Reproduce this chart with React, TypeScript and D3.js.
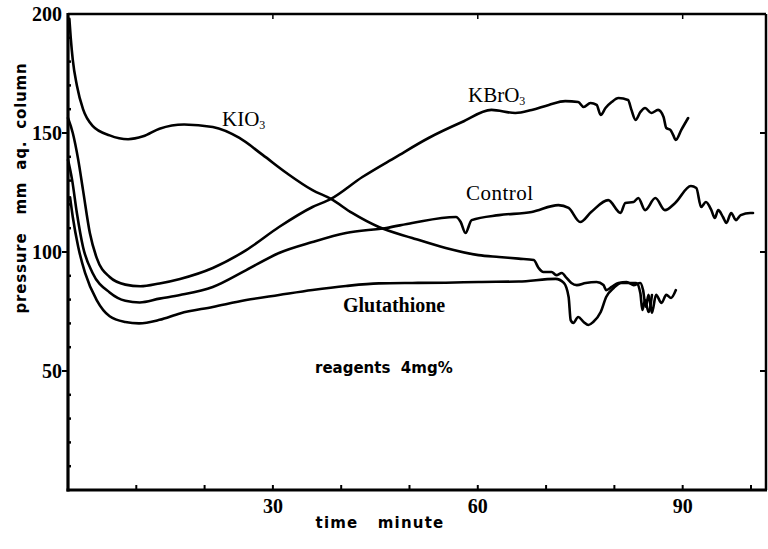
import React from "react";
import * as d3 from "d3";

const W = 768;
const H = 549;

const yTickValues = [50, 100, 150, 200];
const yMinorValues = [10, 20, 30, 40, 60, 70, 80, 90, 110, 120, 130, 140, 160, 170, 180, 190];
const xTickValues = [30, 60, 90];
const xMinorValues = [10, 20, 30, 40, 50, 60, 70, 80, 90, 100];

const kio3: [number, number][] = [
  [0.2, 198], [0.4, 190], [0.7, 180.7], [1.3, 170], [2.2, 160], [3.6, 153], [6.1, 149], [8.8, 147.4],
  [11, 148.6], [13.4, 151.8], [17, 153.6], [21.2, 152.5], [25.1, 147.9], [28.5, 140.8], [32, 133.2],
  [35.8, 126], [38.5, 122.3], [41.6, 116.4], [45.5, 110.5], [50.4, 105.9], [55.3, 101.7], [60.1, 98.7],
  [63.1, 97.9], [66, 97.2], [68.2, 96.6], [68.9, 93.3], [69.6, 91.6], [70.8, 91.6], [71.5, 90.3],
  [72.3, 91.2], [73, 89.1], [73.7, 87], [74.5, 86.1], [75.8, 87], [77.4, 87.4], [78.4, 86.1], [78.8, 84],
  [79.6, 85.3], [80.6, 87], [81.8, 87.4], [82.8, 86.1], [83.8, 87], [84.2, 84], [84.6, 77], [85, 82],
  [85.5, 74.5], [86.1, 82], [86.9, 78.6], [87.6, 82], [88.3, 80.7], [89, 84],
];

const kbro3: [number, number][] = [
  [0, 156.3], [0.7, 150], [1.5, 138.7], [2.2, 126], [3.2, 108], [4.2, 97.5], [6.1, 89.5], [8.4, 86.3],
  [10.6, 85.6], [13.4, 86.8], [16.4, 88.7], [21.2, 93.3], [26.1, 100.8], [30.9, 110.5], [35.8, 118.9],
  [38.5, 122.3], [43.1, 131.5], [48, 139.9], [52.8, 147.9], [57.7, 154.6], [62, 159.7], [65.5, 158.4],
  [67.9, 159.7], [70.4, 161.8], [72.8, 163.4], [74.7, 163], [75.5, 160.9], [76.5, 162.6], [77.4, 161.8],
  [78, 157.6], [78.7, 160.5], [79.6, 163], [80.6, 164.7], [82, 163.9], [82.5, 159.7], [83.1, 155.5],
  [83.8, 158.8], [84.5, 160.5], [85.4, 158.4], [86.4, 159.7], [87.2, 156.7], [87.6, 152.1], [88.2, 151.3],
  [88.6, 149.2], [89, 147.1], [89.8, 151.3], [90.8, 156.3],
];

const control: [number, number][] = [
  [0, 138.7], [0.6, 130.3], [1.3, 116.4], [2.2, 102.1], [3.6, 91.2], [6.1, 83], [8.4, 79.5], [10.5, 78.8],
  [13.4, 80.4], [16.4, 81.9], [21.2, 85.3], [26.1, 92.4], [30.9, 99.6], [35.8, 104.2], [40.7, 108],
  [46.6, 110.1], [50.4, 112.2], [56.8, 114.7], [57.5, 112.6], [58.2, 108], [59.1, 113.4], [63.1, 115.5],
  [67.9, 116.8], [71.8, 119.7], [73.3, 118.5], [75, 112.6], [76.6, 116.8], [79.1, 121.8], [80.9, 116.4],
  [81.6, 120.6], [82.8, 121], [83.5, 122.7], [84.5, 117.6], [86, 122.7], [87.4, 117.6], [88.9, 120.6],
  [91.2, 127.7], [92, 126.9], [92.7, 118.9], [93.4, 121], [94.2, 117.6], [94.7, 114.3], [95.2, 117.6],
  [95.9, 114.7], [96.4, 112.2], [97.1, 116.4], [97.8, 113.4], [98.5, 115.5], [99.9, 116.4], [100.3, 116.4],
];

const glutathione: [number, number][] = [
  [0.3, 123], [0.7, 114.7], [1.5, 102.1], [2.5, 91.2], [4.2, 79.8], [6.1, 73], [8.4, 70.6], [10.4, 70],
  [13.4, 71.5], [16.4, 74.2], [21.2, 76.9], [26.1, 79.8], [30.9, 81.9], [35.8, 84], [40.7, 85.7],
  [45.5, 86.8], [50.4, 87], [55.3, 87.1], [60.1, 87.4], [66, 87.6], [71.4, 88.7], [72.6, 87], [73.3, 81.1],
  [73.6, 71.4], [74, 70.2], [74.7, 72.7], [75.5, 70.6], [76.2, 69.3], [76.9, 70.6], [78, 74.8],
  [78.8, 81.1], [79.9, 84.9], [81, 87], [82, 87], [83.2, 87], [83.8, 82.8], [84.1, 75.6], [84.5, 79.8],
  [85, 74.8], [85.5, 81.9],
];

const seriesList = [kio3, kbro3, control, glutathione];

export default function App() {
  const x = d3.scaleLinear().domain([0, 102.2]).range([68, 766]);
  const y = d3.scaleLinear().domain([0, 200]).range([490, 14]);
  const line = d3
    .line<[number, number]>()
    .x((d) => x(d[0]))
    .y((d) => y(d[1]))
    .curve(d3.curveMonotoneX);

  const serif = "'Liberation Serif', 'DejaVu Serif', serif";
  const sans = "'DejaVu Sans', 'Liberation Sans', sans-serif";

  return (
    <svg width={W} height={H} style={{ position: "absolute", left: 0, top: 0, background: "#fff" }}>
      <rect x={0} y={0} width={W} height={H} fill="#fff" />
      {/* frame */}
      <line x1={x(0)} y1={y(200)} x2={x(102.2)} y2={y(200)} stroke="#000" strokeWidth={2.5} />
      <line x1={x(102.2)} y1={y(200)} x2={x(102.2)} y2={y(0)} stroke="#000" strokeWidth={2.5} />
      <line x1={x(0)} y1={y(200) - 1} x2={x(0)} y2={y(0) + 1.5} stroke="#000" strokeWidth={3.2} />
      <line x1={x(0) - 1.5} y1={y(0)} x2={x(102.2) + 1} y2={y(0)} stroke="#000" strokeWidth={3} />

      {/* y ticks */}
      {yTickValues.map((v) => (
        <g key={"yt" + v}>
          {v < 200 && <line x1={x(0) - 6} x2={x(0)} y1={y(v)} y2={y(v)} stroke="#000" strokeWidth={2} />}
          {v < 200 && <line x1={x(102.2) - 6} x2={x(102.2)} y1={y(v)} y2={y(v)} stroke="#000" strokeWidth={2} />}
          <text
            x={x(0) - 6}
            y={y(v)}
            textAnchor="end"
            dominantBaseline="central"
            fontFamily={serif}
            fontWeight="bold"
            fontSize={20}
          >
            {v}
          </text>
        </g>
      ))}
      {yMinorValues.map((v) => (
        <line key={"ym" + v} x1={x(0)} x2={x(0) + 3} y1={y(v)} y2={y(v)} stroke="#000" strokeWidth={2.5} />
      ))}

      {/* x ticks */}
      {xMinorValues.map((t) => (
        <line key={"xm" + t} x1={x(t)} x2={x(t)} y1={y(0)} y2={y(0) - 5} stroke="#000" strokeWidth={2} />
      ))}
      {xTickValues.map((t) => (
        <g key={"xt" + t}>
          <line x1={x(t)} x2={x(t)} y1={y(200)} y2={y(200) + 5} stroke="#000" strokeWidth={1.5} />
          <text x={x(t)} y={y(0) + 23} textAnchor="middle" fontFamily={serif} fontWeight="bold" fontSize={20}>
            {t}
          </text>
        </g>
      ))}

      {/* curves */}
      {seriesList.map((s, i) => (
        <path
          key={"s" + i}
          d={line(s) || ""}
          fill="none"
          stroke="#000"
          strokeWidth={2.6}
          strokeLinejoin="round"
          strokeLinecap="round"
        />
      ))}

      {/* curve labels */}
      <text x={222} y={126} fontFamily={serif} fontSize={21}>
        KIO<tspan fontSize={12} dy={3}>3</tspan>
      </text>
      <text x={468} y={102} fontFamily={serif} fontSize={21}>
        KBrO<tspan fontSize={12} dy={3}>3</tspan>
      </text>
      <text x={466} y={200} fontFamily={serif} fontSize={21} letterSpacing={0.5}>
        Control
      </text>
      <text x={343} y={312} fontFamily={serif} fontSize={20} fontWeight="bold">
        Glutathione
      </text>
      <text x={315} y={373} fontFamily={sans} fontSize={15} fontWeight="bold" style={{ whiteSpace: "pre" }}>
        {"reagents  4mg%"}
      </text>

      {/* axis titles */}
      <text
        transform={`translate(26, 188) rotate(-90)`}
        textAnchor="middle"
        fontFamily={sans}
        fontSize={15}
        fontWeight="bold"
        letterSpacing={0.8}
        style={{ whiteSpace: "pre" }}
      >
        {"pressure   mm  aq.  column"}
      </text>
      <text
        x={380}
        y={528}
        textAnchor="middle"
        fontFamily={sans}
        fontSize={15}
        fontWeight="bold"
        letterSpacing={1.2}
        style={{ whiteSpace: "pre" }}
      >
        {"time   minute"}
      </text>
    </svg>
  );
}
